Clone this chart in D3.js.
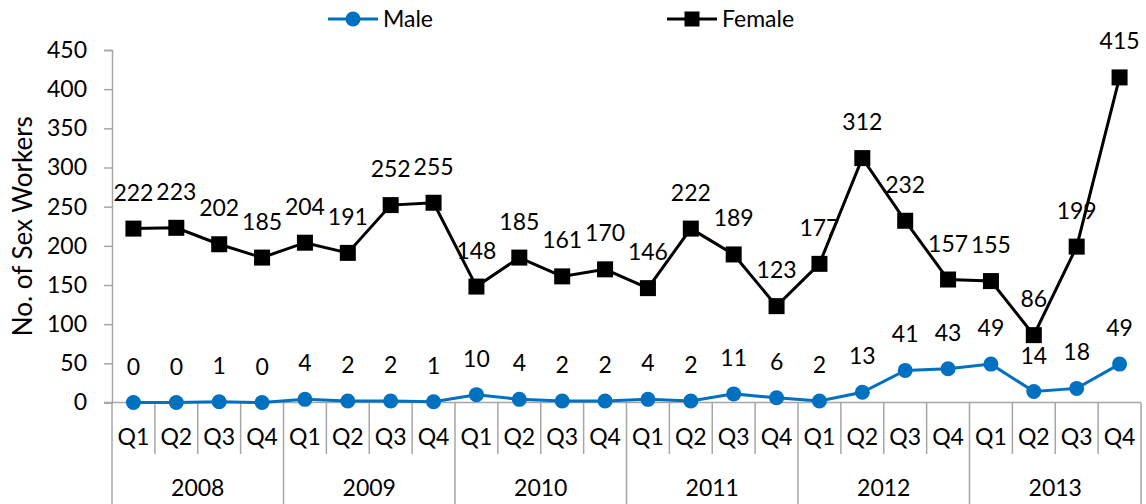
<!DOCTYPE html>
<html lang="en">
<head>
  <meta charset="UTF-8">
  <title>index</title>
  <style type="text/css">
    body { margin: 0; background: #fff; }
    svg text { font-family: Lato, "Open Sans", sans-serif; fill: #000; }
  </style>
</head>
<body>
  <svg id="chart" width="1146" height="504"></svg>

<script src="https://cdn.jsdelivr.net/npm/d3@7/dist/d3.min.js"></script>
<script>
  // data
  const years = ['2008', '2009', '2010', '2011', '2012', '2013']
  const quarters = ['Q1', 'Q2', 'Q3', 'Q4']
  const male = [0, 0, 1, 0, 4, 2, 2, 1, 10, 4, 2, 2, 4, 2, 11, 6, 2, 13, 41, 43, 49, 14, 18, 49]
  const female = [222, 223, 202, 185, 204, 191, 252, 255, 148, 185, 161, 170, 146, 222, 189, 123, 177, 312, 232, 157, 155, 86, 199, 415]
  const yTicks = [0, 50, 100, 150, 200, 250, 300, 350, 400, 450]

  const categories = []
  years.forEach(yr => quarters.forEach(q => categories.push(yr + '-' + q)))

  const svg = d3.select('#chart')
  const plotLeft = 112, plotRight = 1141, plotTop = 50, plotBottom = 402.5
  const axisColor = '#a6a6a6'
  const fs = '23px'

  const x = d3.scaleBand().domain(categories).range([plotLeft, plotRight])
  const y = d3.scaleLinear().domain([0, 450]).range([plotBottom, plotTop])
  const cx = d => x(d) + x.bandwidth() / 2

  // y axis
  const yAxis = svg.append('g').attr('transform', `translate(${plotLeft},0)`)
    .call(d3.axisLeft(y).tickValues(yTicks).tickSize(8).tickPadding(17))
  yAxis.select('.domain').attr('stroke', axisColor).attr('stroke-width', 1.5)
  yAxis.selectAll('.tick line').attr('stroke', axisColor).attr('stroke-width', 1.5)
  yAxis.selectAll('.tick text').style('font-size', fs).attr('fill', '#000')

  svg.append('text')
    .attr('transform', `translate(32,${(plotTop + plotBottom) / 2}) rotate(-90)`)
    .attr('text-anchor', 'middle')
    .style('font-size', '26px')
    .text('No. of Sex Workers')

  // x axis: base line, quarter separators, year separators
  const xg = svg.append('g')
  xg.append('line').attr('x1', plotLeft - 8).attr('x2', plotRight).attr('y1', plotBottom).attr('y2', plotBottom)
    .attr('stroke', axisColor).attr('stroke-width', 1.5)
  xg.selectAll('.qsep').data(categories).enter().append('line')
    .attr('x1', d => x(d) + x.bandwidth()).attr('x2', d => x(d) + x.bandwidth())
    .attr('y1', plotBottom).attr('y2', (d, i) => (i + 1) % 4 === 0 ? 504 : 454)
    .attr('stroke', axisColor).attr('stroke-width', 1.5)
  xg.append('line').attr('x1', plotLeft).attr('x2', plotLeft).attr('y1', plotBottom).attr('y2', 504)
    .attr('stroke', axisColor).attr('stroke-width', 1.5)
  xg.selectAll('.qlab').data(categories).enter().append('text')
    .attr('x', d => cx(d)).attr('y', 445)
    .attr('text-anchor', 'middle').style('font-size', fs)
    .text(d => d.split('-')[1])
  xg.selectAll('.ylab').data(years).enter().append('text')
    .attr('x', d => (x(d + '-Q1') + x(d + '-Q4') + x.bandwidth()) / 2).attr('y', 496)
    .attr('text-anchor', 'middle').style('font-size', fs)
    .text(d => d)

  const line = d3.line().x((d, i) => cx(categories[i])).y(d => y(d))

  // female series
  svg.append('path').datum(female).attr('d', line)
    .attr('fill', 'none').attr('stroke', '#000').attr('stroke-width', 3)
  svg.selectAll('.fpt').data(female).enter().append('rect')
    .attr('x', (d, i) => cx(categories[i]) - 8).attr('y', d => y(d) - 8)
    .attr('width', 16).attr('height', 16).attr('fill', '#000')
  svg.selectAll('.flab').data(female).enter().append('text')
    .attr('x', (d, i) => cx(categories[i])).attr('y', d => y(d) - 28)
    .attr('text-anchor', 'middle').style('font-size', fs)
    .text(d => d)

  // male series
  svg.append('path').datum(male).attr('d', line)
    .attr('fill', 'none').attr('stroke', '#0070c0').attr('stroke-width', 3)
  svg.selectAll('.mpt').data(male).enter().append('circle')
    .attr('cx', (d, i) => cx(categories[i])).attr('cy', d => y(d))
    .attr('r', 7.5).attr('fill', '#0070c0')
  svg.selectAll('.mlab').data(male).enter().append('text')
    .attr('x', (d, i) => cx(categories[i])).attr('y', d => y(d) - 28)
    .attr('text-anchor', 'middle').style('font-size', fs)
    .text(d => d)

  // legend
  const legend = svg.append('g')
  const maleKey = legend.append('g').attr('transform', 'translate(328,19)')
  maleKey.append('line').attr('x1', 0).attr('x2', 50).attr('stroke', '#0070c0').attr('stroke-width', 3)
  maleKey.append('circle').attr('cx', 25).attr('r', 7.5).attr('fill', '#0070c0')
  maleKey.append('text').attr('x', 55).attr('y', 8).style('font-size', fs).text('Male')
  const femKey = legend.append('g').attr('transform', 'translate(667,19)')
  femKey.append('line').attr('x1', 0).attr('x2', 50).attr('stroke', '#000').attr('stroke-width', 3)
  femKey.append('rect').attr('x', 17.5).attr('y', -7.5).attr('width', 15).attr('height', 15).attr('fill', '#000')
  femKey.append('text').attr('x', 55).attr('y', 8).style('font-size', fs).text('Female')
</script>
</body>
</html>
